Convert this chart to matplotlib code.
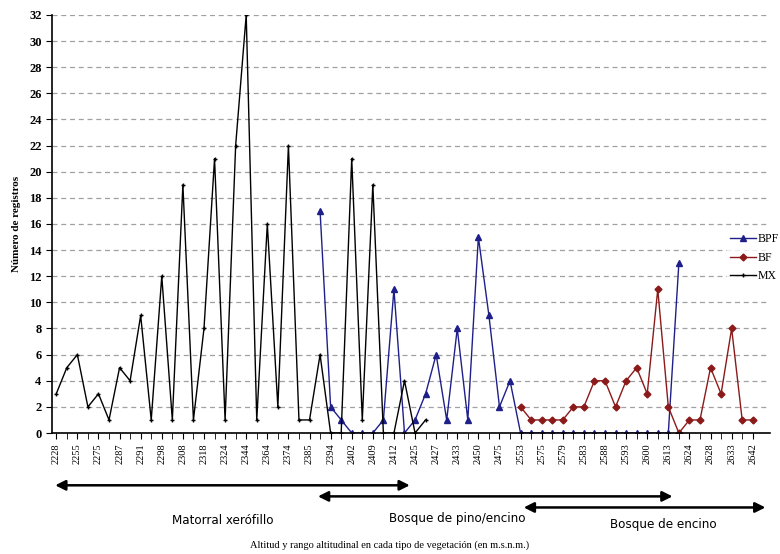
import numpy as np
import matplotlib
matplotlib.use("Agg")
import matplotlib.pyplot as plt
import matplotlib.transforms as mtransforms

# categorias (altitud) y etiquetas
n_cat = 67
etiquetas = ['2228', '2255', '2275', '2287', '2291', '2298', '2308', '2318', '2324',
             '2344', '2364', '2374', '2385', '2394', '2402', '2409', '2412', '2425',
             '2427', '2433', '2450', '2475', '2553', '2575', '2579', '2583', '2588',
             '2593', '2600', '2613', '2624', '2628', '2633', '2642']

# Matorral xerofilo (MX), categorias 0..35
mx = [3, 5, 6, 2, 3, 1, 5, 4, 9, 1, 12, 1, 19, 1, 8, 21, 1, 22, 32, 1, 16, 2,
      22, 1, 1, 6, 0, 0, 21, 1, 19, 0, 0, 4, 0, 1]
# Bosque de pino/encino (BPF), categorias 25..59
bpf = [17, 2, 1, 0, 0, 0, 1, 11, 0, 1, 3, 6, 1, 8, 1, 15, 9, 2, 4,
       0, 0, 0, 0, 0, 0, 0, 0, 0, 0, 0, 0, 0, 0, 0, 13]
# Bosque de encino (BF), categorias 44..66
bf = [2, 1, 1, 1, 1, 2, 2, 4, 4, 2, 4, 5, 3, 11, 2, 0, 1, 1, 5, 3, 8, 1, 1]

x = np.arange(n_cat)
y_mx = np.full(n_cat, np.nan)
y_mx[0:len(mx)] = mx
y_bpf = np.full(n_cat, np.nan)
y_bpf[25:25 + len(bpf)] = bpf
y_bf = np.full(n_cat, np.nan)
y_bf[44:44 + len(bf)] = bf

fig = plt.figure(figsize=(7.8, 5.54), dpi=100)
ax = fig.add_axes([0.0667, 0.2184, 0.92, 0.7546])

ax.plot(x, y_bpf, color='#1f1f8a', lw=1.0, marker='^', ms=5, label='BPF')
ax.plot(x, y_bf, color='#8b1a1a', lw=1.0, marker='D', ms=3.5, label='BF')
ax.plot(x, y_mx, color='black', lw=1.0, marker='+', ms=3.5, mew=1, label='MX')

ax.set_ylim(0, 32)
ax.set_xlim(-0.4, 67.6)
ax.set_yticks(np.arange(0, 33, 2))
ax.set_yticklabels([str(v) for v in range(0, 33, 2)], family='Liberation Serif',
                   fontsize=9, fontweight='bold')
ax.set_xticks(x[::2])
ax.set_xticklabels(etiquetas, rotation=90, family='Liberation Serif', fontsize=7.5)
ax.set_xticks(x, minor=True)
ax.tick_params(axis='x', which='both', length=4, direction='out')
ax.tick_params(axis='y', length=4, direction='out')

ax.grid(axis='y', linestyle=(0, (4, 3)), color='#a0a0a0', lw=0.9)
for s in ['top', 'right']:
    ax.spines[s].set_visible(False)
ax.spines['left'].set_linewidth(1.2)
ax.spines['bottom'].set_linewidth(1.2)

ax.set_ylabel('Número de registros', family='Liberation Serif', fontsize=8,
              fontweight='bold', labelpad=6)

leg = fig.legend(loc='upper left', bbox_to_anchor=(0.925, 0.594), frameon=True,
                 prop={'family': 'Liberation Serif', 'size': 8.5}, handlelength=2.2,
                 labelspacing=0.55, handletextpad=0.2, borderpad=0.2)
leg.get_frame().set_edgecolor('white')
leg.get_frame().set_facecolor('white')

# flechas de tipos de vegetacion
trans = mtransforms.blended_transform_factory(ax.transData, fig.transFigure)
flechas = [(-0.1, 33.5, 0.124, 'Matorral xerófillo', 15.8, 0.06),
           (24.8, 58.4, 0.104, 'Bosque de pino/encino', 38.0, 0.064),
           (44.3, 67.2, 0.084, 'Bosque de encino', 57.5, 0.054)]
for x0, x1, yy, txt, xt, yt in flechas:
    ax.annotate('', xy=(x0, yy), xytext=(x1, yy), xycoords=trans, textcoords=trans,
                annotation_clip=False,
                arrowprops=dict(arrowstyle='<|-|>', color='black', lw=1.8,
                                mutation_scale=15, shrinkA=0, shrinkB=0))
    ax.text(xt, yt, txt, transform=trans, ha='center', va='center', fontsize=9.5,
            family='DejaVu Sans', stretch='condensed')

fig.text(0.5, 0.015, 'Altitud y rango altitudinal en cada tipo de vegetación (en m.s.n.m.)',
         ha='center', va='center', family='Liberation Serif', fontsize=7.5)

fig.savefig('out.png', dpi=100, facecolor='white')
